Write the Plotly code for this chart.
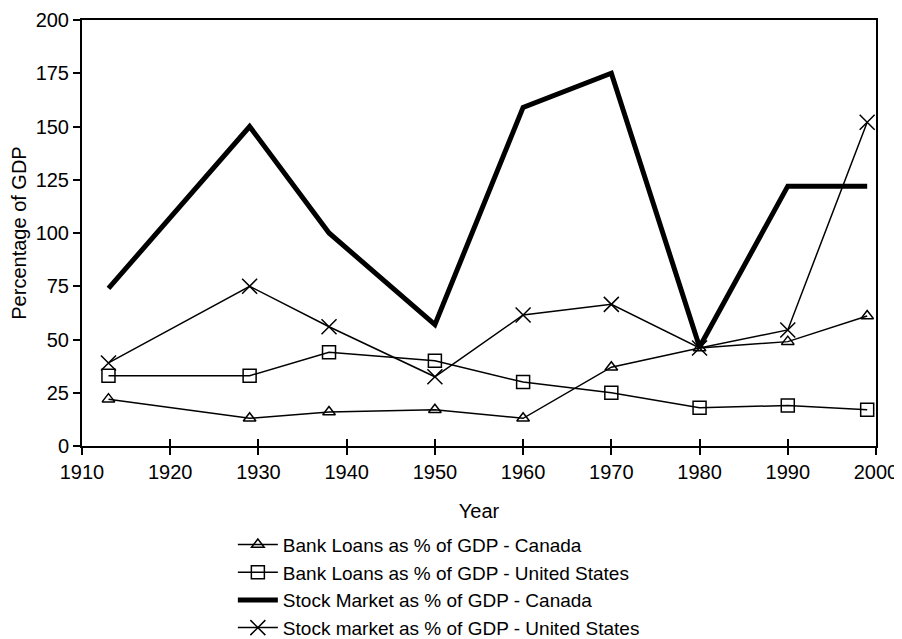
import plotly.graph_objects as go

# survey years and series values (% of GDP)
years = [1913, 1929, 1938, 1950, 1960, 1970, 1980, 1990, 1999]
bank_canada = [22, 13, 16, 17, 13, 37, 46, 49, 61]
bank_us = [33, 33, 44, 40, 30, 25, 18, 19, 17]
stock_canada = [74, 150, 100, 57, 159, 175, 46.5, 122, 122]
stock_us = [39, 75, 56, 32.5, 61.5, 66.5, 46, 54.5, 152]

FONT = "Liberation Sans, Arial, sans-serif"

fig = go.Figure()
fig.add_trace(go.Scatter(
    x=years, y=bank_canada, mode="lines+markers",
    name="Bank Loans as % of GDP - Canada",
    line=dict(color="black", width=1.5),
    marker=dict(symbol="triangle-up-open", size=11, color="black", line=dict(width=1.5)),
))
fig.add_trace(go.Scatter(
    x=years, y=bank_us, mode="lines+markers",
    name="Bank Loans as % of GDP - United States",
    line=dict(color="black", width=1.5),
    marker=dict(symbol="square-open", size=13, color="black", line=dict(width=1.5)),
))
# drawn on the twin x axis (same range) so the inner tick half gets rendered
fig.add_trace(go.Scatter(
    x=years, y=stock_canada, mode="lines", xaxis="x2",
    name="Stock Market as % of GDP - Canada",
    line=dict(color="black", width=5),
))
fig.add_trace(go.Scatter(
    x=years, y=stock_us, mode="lines+markers",
    name="Stock market as % of GDP - United States",
    line=dict(color="black", width=1.5),
    marker=dict(symbol="x-thin-open", size=15, color="black", line=dict(width=1.5)),
))

# the page body adds 8px around the figure, so the figure is 8px smaller
fig.update_layout(
    width=894, height=631,
    margin=dict(l=74, r=26, t=12, b=193, autoexpand=False),
    plot_bgcolor="white", paper_bgcolor="white",
    font=dict(family=FONT, size=20, color="black"),
    showlegend=True,
    legend=dict(
        x=0.19, y=-0.187, xanchor="left", yanchor="top",
        bgcolor="rgba(0,0,0,0)", font=dict(size=19),
        tracegroupgap=0, itemwidth=40,
    ),
    xaxis=dict(
        range=[1910, 2000], dtick=10, tick0=1910, automargin=False,
        showline=True, linecolor="black", linewidth=2, mirror=True,
        ticks="outside", ticklen=7, tickwidth=2, tickcolor="black",
        tickfont=dict(size=20),
        showgrid=False, zeroline=False,
        title=dict(text="Year", font=dict(size=20), standoff=22),
    ),
    # inner half of the year ticks, so they cross the axis like the original
    xaxis2=dict(
        overlaying="x", side="bottom", range=[1910, 2000], dtick=10, tick0=1910,
        ticks="inside", ticklen=7, tickwidth=2, tickcolor="black",
        showticklabels=False, showline=False, showgrid=False, zeroline=False,
        automargin=False,
    ),
    yaxis=dict(
        range=[0, 200], dtick=25, automargin=False,
        showline=True, linecolor="black", linewidth=2, mirror=True,
        ticks="outside", ticklen=7, tickwidth=2, tickcolor="black",
        tickfont=dict(size=20),
        showgrid=False, zeroline=False,
        title=dict(text="Percentage of GDP", font=dict(size=20)),
    ),
)

fig.write_html("out.html")
